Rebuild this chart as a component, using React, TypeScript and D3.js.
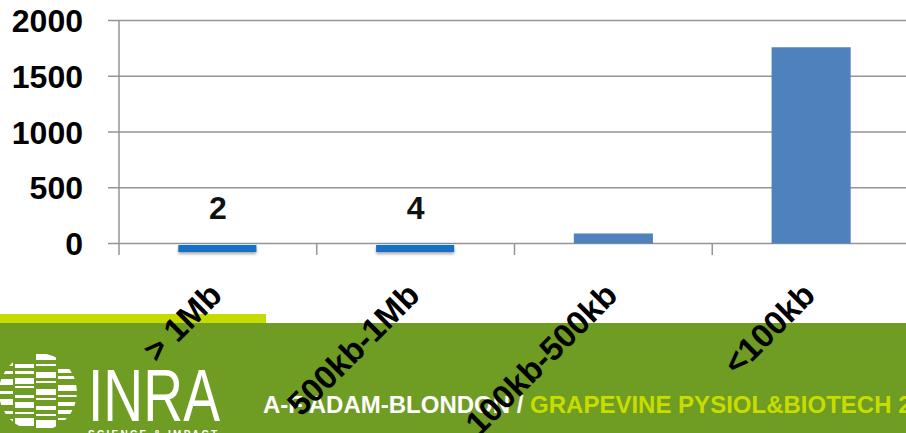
import React from "react";
import * as d3 from "d3";

const categories = ["> 1Mb", "500kb-1Mb", "100kb-500kb", "<100kb"];
const values = [2, 4, 90, 1760];
const dataLabels = ["2", "4", "", ""];
const yTicks = [0, 500, 1000, 1500, 2000];
const footerAuthor = "A-F ADAM-BLONDON / ";
const footerTitle = "GRAPEVINE PYSIOL&BIOTECH 2";

// decorative logo stripes: [x0, x1, y, h]
const logoStripes: [number, number, number, number][] = [
  [0, 13, 362, 4], [0, 13, 371, 3], [0, 13, 379, 6], [0, 13, 391, 3], [0, 13, 399, 6], [0, 13, 411, 3], [0, 13, 419, 5],
  [15, 34, 364, 4], [15, 34, 371, 3], [15, 34, 378, 6], [15, 34, 386, 2], [15, 34, 395, 3], [15, 34, 402, 6], [15, 34, 412, 2], [15, 34, 418, 8],
  [36, 56, 354, 6], [36, 56, 364, 2], [36, 56, 372, 6], [36, 56, 381, 2], [36, 56, 389, 6], [36, 56, 398, 2], [36, 56, 406, 4], [36, 56, 414, 2], [36, 56, 420, 8],
  [58, 78, 369, 4], [58, 78, 376, 3], [58, 78, 385, 6], [58, 78, 395, 2], [58, 78, 402, 4], [58, 78, 410, 4], [58, 78, 418, 2],
];

export default function App() {
  const W = 906, H = 433;
  const x = d3.scaleBand<string>().domain(categories).range([119, 910]).paddingInner(0.6).paddingOuter(0.3);
  const y = d3.scaleLinear().domain([0, 2000]).range([243.5, 20.5]);
  const step = x.step();
  const font = "'Liberation Sans', Arial, sans-serif";

  return (
    <div style={{ position: "fixed", left: 0, top: 0 }}>
      <svg width={W} height={H} style={{ display: "block" }}>
        <defs>
          <clipPath id="logoClip">
            <circle cx={38} cy={392} r={39} />
          </clipPath>
          <filter id="shadow" x="-20%" y="-50%" width="140%" height="250%">
            <feDropShadow dx="0" dy="2" stdDeviation="1.5" floodColor="#000" floodOpacity="0.35" />
          </filter>
        </defs>
        <rect x={0} y={0} width={W} height={H} fill="#fff" />

        {/* footer */}
        <rect x={0} y={323} width={W} height={110} fill="#6f9c22" />
        <rect x={0} y={314} width={266} height={9} fill="#c6dc00" />
        <g clipPath="url(#logoClip)">
          {logoStripes.map((s, i) => (
            <rect key={i} x={s[0]} y={s[2]} width={s[1] - s[0]} height={s[3]} fill="#fff" />
          ))}
        </g>
        <text x={88} y={421} fill="#fff" fontFamily={font} fontSize={74} textLength={132} lengthAdjust="spacingAndGlyphs">INRA</text>
        <text x={88} y={438} fill="#fff" fontFamily={font} fontSize={10} fontWeight="bold" textLength={129} lengthAdjust="spacing">SCIENCE &amp; IMPACT</text>
        <text x={263} y={413} fontFamily={font} fontSize={24} fontWeight="bold">
          <tspan fill="#fff">{footerAuthor}</tspan>
          <tspan fill="#c8dc00">{footerTitle}</tspan>
        </text>

        {/* gridlines */}
        {yTicks.map((t) => (
          <line key={t} x1={108} x2={W} y1={y(t)} y2={y(t)} stroke="#959595" strokeWidth={1.5} />
        ))}
        {/* y axis */}
        <line x1={119} x2={119} y1={y(2000)} y2={255} stroke="#959595" strokeWidth={1.5} />
        {categories.slice(1).map((c) => (
          <line key={c} x1={(x(c) ?? 0) - step * 0.3} x2={(x(c) ?? 0) - step * 0.3} y1={y(0)} y2={255} stroke="#959595" strokeWidth={1.5} />
        ))}
        {yTicks.map((t) => (
          <text key={t} x={83} y={y(t) + 11.5} textAnchor="end" fontFamily={font} fontSize={32} fontWeight="bold" fill="#000">{t}</text>
        ))}

        {/* bars */}
        {categories.map((c, i) => (
          <rect key={c} x={x(c)} y={y(values[i])} width={x.bandwidth()} height={y(0) - y(values[i])} fill="#4f81bd" />
        ))}
        {/* highlighted small-value markers */}
        {categories.map((c, i) =>
          dataLabels[i] ? (
            <rect key={"m" + c} x={(x(c) ?? 0)} y={y(0) + 1.5} width={x.bandwidth() - 1} height={7} fill="#1670c8" filter="url(#shadow)" />
          ) : null
        )}
        {categories.map((c, i) =>
          dataLabels[i] ? (
            <text key={"l" + c} x={(x(c) ?? 0) + x.bandwidth() / 2} y={219} textAnchor="middle" fontFamily={font} fontSize={32} fontWeight="bold" fill="#111">{dataLabels[i]}</text>
          ) : null
        )}

        {/* category labels */}
        {categories.map((c) => {
          const cx = (x(c) ?? 0) + x.bandwidth() / 2 + 6;
          const cy = 297;
          return (
            <text key={"c" + c} x={cx} y={cy} transform={`rotate(-45 ${cx} ${cy})`} textAnchor="end" fontFamily={font} fontSize={33} fontWeight="bold" fill="#000">{c}</text>
          );
        })}
      </svg>
    </div>
  );
}
